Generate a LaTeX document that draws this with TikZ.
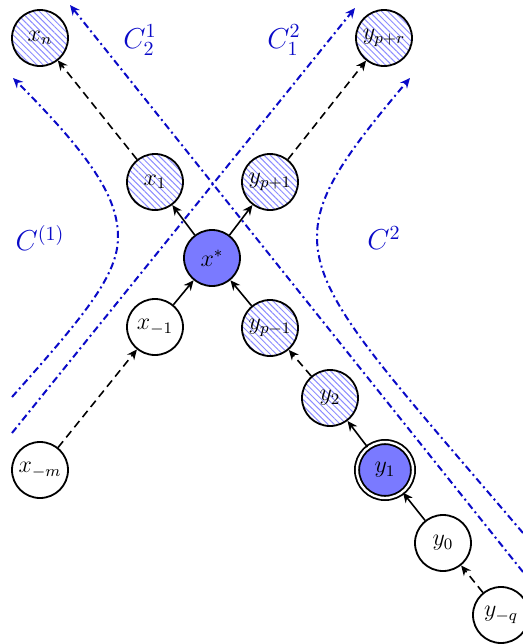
\documentclass[tikz,border=0pt]{standalone}
\usetikzlibrary{arrows.meta,patterns.meta}
\definecolor{curveblue}{RGB}{10,10,200}
\tikzset{
 st/.style={circle,draw=black,line width=0.9pt,minimum size=28pt,inner sep=0pt,font=\large},
 hatched/.style={st,pattern={Lines[angle=-45,distance=2.2pt,line width=0.5pt]},pattern color=blue!45},
 filledn/.style={st,fill=blue!52},
 conn/.style={-{Stealth[length=5pt,width=4.5pt]},line width=0.8pt},
 dconn/.style={conn,dash pattern=on 4pt off 2.5pt},
 curve/.style={curveblue,line width=1pt,dash pattern=on 3.5pt off 1.8pt on 1pt off 1.8pt,-{Stealth[length=5pt,width=4.5pt]}},
 lab/.style={curveblue,font=\Large}
}
\begin{document}
\begin{tikzpicture}[x=0.5pt,y=-0.5pt]
\useasboundingbox (0,0) rectangle (523,644);
\clip (0,0) rectangle (523,644);
% blue curves
\coordinate (a1s) at (523,572); \coordinate (a1e) at (70,5);
\coordinate (b1s) at (12,433); \coordinate (b1e) at (355,8);
\coordinate (c1s) at (12,397); \coordinate (c1v) at (118,237); \coordinate (c1e) at (13,78);
\coordinate (c2s) at (523,533); \coordinate (c2v) at (317,237); \coordinate (c2e) at (410,78);
\draw[curve] (a1s) -- (a1e);
\draw[curve] (b1s) -- (b1e);
\draw[curve] (c1s) .. controls (85,315) and (118,275) .. (c1v) .. controls (118,200) and (95,160) .. (c1e);
\draw[curve] (c2s) .. controls (380,365) and (317,300) .. (c2v) .. controls (317,195) and (345,155) .. (c2e);
% labels
\node[lab] (c21) at (140,40) {$C_2^1$};
\node[lab] (c12) at (284,40) {$C_1^2$};
\node[lab] (c1) at (40,238) {$C^{(1)}$};
\node[lab] (c2) at (384,238) {$C^2$};
% nodes
\node[hatched] (xn) at (40,38) {$x_n$};
\node[hatched] (ypr) at (384,38) {$y_{p+r}$};
\node[hatched] (x1) at (155,182) {$x_1$};
\node[hatched] (yp1) at (270,182) {$y_{p+1}$};
\node[filledn] (xs) at (212,258) {$x^*$};
\node[st] (xm1) at (155,327) {$x_{-1}$};
\node[hatched] (ypm1) at (270,328) {$y_{p-1}$};
\node[hatched] (y2) at (330,398) {$y_2$};
\node[filledn,double,double distance=1.2pt] (y1) at (385,470) {$y_1$};
\node[st] (y0) at (443,543) {$y_0$};
\node[st] (yq) at (501,615) {$y_{-q}$};
\node[st] (xmm) at (40,470) {$x_{-m}$};
% connectors
\draw[dconn] (xmm) -- (xm1);
\draw[conn] (xm1) -- (xs);
\draw[conn] (xs) -- (x1);
\draw[dconn] (x1) -- (xn);
\draw[conn] (xs) -- (yp1);
\draw[dconn] (yp1) -- (ypr);
\draw[conn] (ypm1) -- (xs);
\draw[dconn] (y2) -- (ypm1);
\draw[conn] (y1) -- (y2);
\draw[conn] (y0) -- (y1);
\draw[dconn] (yq) -- (y0);
\end{tikzpicture}
\end{document}
